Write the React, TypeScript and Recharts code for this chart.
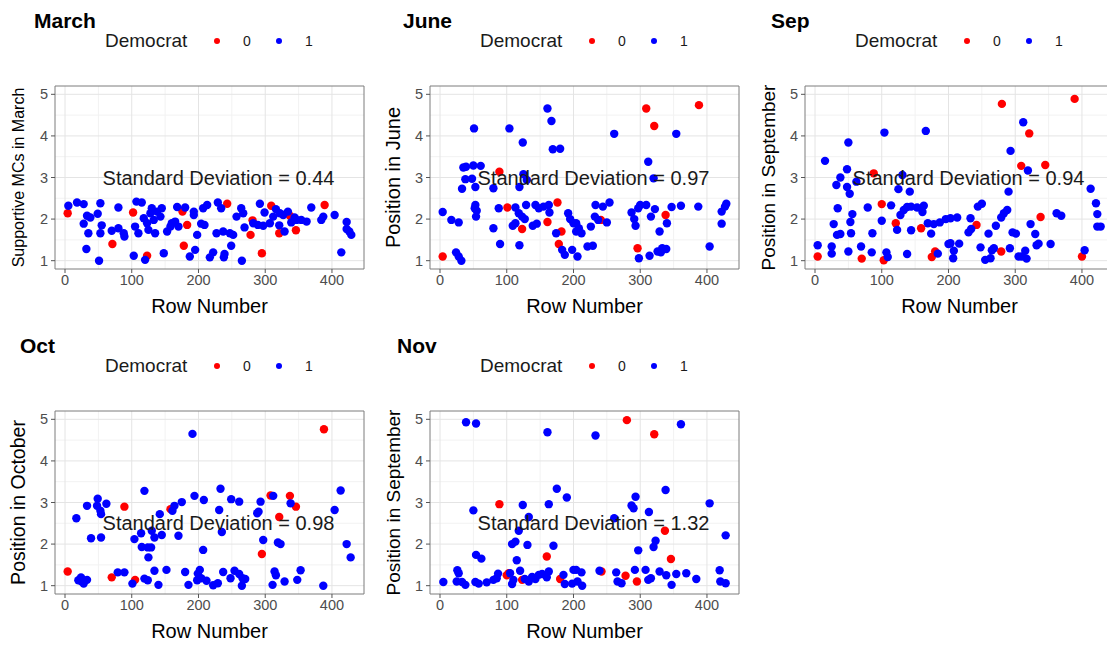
import React from "react";
import {
  ScatterChart,
  Scatter,
  XAxis,
  YAxis,
  CartesianGrid,
  ReferenceArea,
  ReferenceDot,
} from "recharts";

type Pt = [number, number];

// [row number, position], Democrat = 0 (red) / 1 (blue)
const marchDem0: Pt[] = [
  [4, 2.14], [71, 1.4], [102, 2.16], [123, 1.12], [176, 2.18], [178, 1.36], [183, 1.86], [243, 2.37],
  [281, 1.97], [278, 1.62], [309, 2.32], [321, 1.66], [337, 2.08], [346, 1.73], [389, 2.34], [295, 1.18],
];
const marchDem1: Pt[] = [
  [5, 2.32], [18, 2.4], [28, 2.36], [53, 2.38], [80, 2.28], [107, 2.42], [115, 2.4], [130, 2.26],
  [145, 2.26], [168, 2.29], [180, 2.28], [193, 2.18], [33, 2.08], [38, 2.04], [49, 2.13], [28, 1.89],
  [55, 1.85], [53, 1.66], [35, 1.66], [70, 1.72], [80, 1.78], [88, 1.66], [89, 1.58], [105, 1.82],
  [110, 1.66], [118, 2.02], [123, 1.9], [128, 2.14], [133, 1.98], [138, 2.18], [143, 2.06], [125, 1.74],
  [135, 1.66], [153, 1.7], [160, 1.9], [165, 1.94], [170, 1.82], [158, 1.82], [193, 2.1], [198, 1.62],
  [32, 1.28], [51, 1.0], [103, 1.12], [120, 1.02], [148, 1.18], [187, 1.1], [195, 1.26],
  [207, 2.26], [213, 2.34], [204, 1.89], [209, 1.86], [229, 2.4], [234, 2.26], [257, 2.06], [264, 2.26],
  [267, 2.14], [227, 1.66], [237, 1.7], [247, 1.66], [252, 1.62], [249, 1.36], [222, 1.2], [217, 1.08],
  [239, 1.16], [238, 1.08], [265, 1.0], [269, 1.8], [282, 1.9], [289, 1.86], [297, 1.84], [292, 2.37],
  [299, 2.16], [307, 1.9], [312, 2.06], [316, 2.24], [322, 2.14], [321, 1.85], [327, 2.1], [329, 1.7],
  [334, 2.18], [339, 1.92], [344, 2.04], [347, 1.98], [354, 1.98], [362, 1.94], [369, 2.28], [384, 1.98],
  [387, 2.06], [404, 2.1], [422, 1.93], [422, 1.76], [426, 1.7], [429, 1.62], [414, 1.2],
];

const juneDem0: Pt[] = [
  [4, 1.1], [89, 3.14], [101, 2.28], [123, 1.76], [161, 1.93], [176, 2.4], [182, 1.7], [178, 1.4],
  [309, 4.66], [321, 4.24], [388, 4.74], [241, 1.98], [296, 1.3], [338, 2.1],
];
const juneDem1: Pt[] = [
  [4, 2.17], [17, 1.98], [28, 1.92], [24, 1.2], [28, 1.1], [32, 1.0], [51, 4.18], [104, 4.18],
  [124, 3.84], [161, 4.66], [167, 4.36], [169, 3.68], [180, 3.69], [35, 3.24], [39, 3.26], [50, 3.29],
  [61, 3.28], [38, 2.96], [48, 2.97], [33, 2.73], [53, 2.77], [80, 2.74], [119, 2.77], [125, 3.08],
  [130, 2.94], [53, 2.34], [52, 2.26], [55, 2.2], [54, 2.06], [88, 2.26], [80, 1.78], [90, 1.4],
  [119, 1.37], [113, 2.28], [118, 2.14], [123, 2.06], [127, 2.0], [109, 1.84], [113, 1.9], [129, 2.34],
  [143, 2.34], [148, 2.26], [155, 2.3], [163, 2.34], [164, 2.16], [145, 1.89], [139, 1.84], [174, 1.66],
  [192, 2.14], [195, 2.0], [200, 1.9], [183, 1.26], [187, 1.14], [198, 1.26],
  [204, 1.9], [208, 1.78], [212, 1.66], [204, 1.7], [206, 1.1], [226, 1.82], [232, 2.06], [237, 1.98],
  [233, 2.34], [244, 2.3], [254, 2.4], [250, 1.92], [221, 1.34], [229, 1.36], [261, 4.05], [287, 2.16],
  [291, 2.0], [293, 1.84], [297, 2.26], [300, 2.34], [309, 2.34], [316, 2.06], [322, 2.24], [329, 1.7],
  [340, 1.9], [347, 2.29], [361, 2.32], [387, 2.3], [354, 4.05], [312, 3.38], [320, 2.98], [298, 1.06],
  [314, 1.12], [326, 1.22], [333, 1.3], [339, 1.28], [331, 1.2], [404, 1.34], [422, 2.18], [427, 2.3],
  [429, 2.37], [422, 1.89],
];

const sepDem0: Pt[] = [
  [4, 1.1], [70, 1.05], [103, 1.01], [88, 3.1], [100, 2.36], [121, 1.9], [159, 1.78], [180, 1.22],
  [175, 1.09], [280, 4.77], [389, 4.89], [321, 4.06], [309, 3.28], [345, 3.3], [242, 1.86], [279, 1.22],
  [338, 2.05], [400, 1.1],
];
const sepDem1: Pt[] = [
  [4, 1.37], [25, 1.34], [25, 1.17], [50, 1.22], [69, 1.34], [85, 1.2], [107, 1.2], [109, 1.09],
  [138, 1.16], [184, 1.17], [200, 1.4], [15, 3.4], [50, 3.84], [104, 4.08], [166, 4.12], [48, 3.2],
  [38, 3.0], [32, 2.82], [48, 2.77], [52, 2.61], [62, 2.9], [131, 3.06], [125, 2.72], [142, 2.66],
  [34, 2.26], [56, 2.12], [79, 2.28], [114, 2.33], [28, 1.88], [53, 1.93], [33, 1.62], [38, 1.64],
  [54, 1.66], [86, 1.66], [100, 1.96], [123, 1.74], [144, 1.73], [128, 2.1], [133, 2.22], [138, 2.29],
  [144, 2.3], [153, 2.28], [163, 2.32], [161, 2.17], [169, 1.9], [178, 1.88], [187, 1.92], [196, 2.0],
  [174, 1.65],
  [203, 2.02], [213, 2.04], [203, 1.42], [216, 1.41], [208, 1.24], [207, 1.06], [233, 2.02], [230, 1.68],
  [234, 1.76], [244, 2.3], [250, 2.37], [248, 1.32], [255, 1.02], [263, 1.06], [265, 1.25], [268, 1.3],
  [260, 1.65], [271, 1.84], [279, 2.04], [283, 2.14], [288, 2.22], [290, 2.66], [293, 3.64], [296, 1.68],
  [301, 1.65], [292, 1.3], [305, 1.1], [310, 1.1], [317, 1.05], [315, 1.24], [323, 1.88], [330, 1.64],
  [332, 1.37], [335, 1.41], [353, 1.4], [362, 2.14], [369, 2.08], [312, 4.33], [319, 3.17], [413, 2.73],
  [421, 2.38], [423, 2.12], [423, 1.82], [428, 1.82], [404, 1.25],
];

const octDem0: Pt[] = [
  [4, 1.34], [70, 1.2], [105, 1.14], [89, 2.9], [158, 2.84], [388, 4.76], [308, 3.17], [337, 3.16],
  [346, 2.9], [321, 2.65], [295, 1.76],
];
const octDem1: Pt[] = [
  [191, 4.65], [119, 3.28], [49, 3.09], [33, 2.92], [48, 2.92], [62, 2.97], [53, 2.8], [54, 2.72],
  [17, 2.62], [39, 2.14], [54, 2.16], [104, 2.12], [114, 2.26], [115, 1.93], [124, 1.92], [129, 1.92],
  [125, 1.68], [130, 2.32], [134, 2.16], [145, 2.22], [142, 2.72], [161, 2.8], [164, 2.92], [175, 3.01],
  [170, 2.2], [194, 3.16], [20, 1.13], [24, 1.2], [28, 1.05], [33, 1.14], [25, 1.1], [79, 1.32],
  [89, 1.32], [101, 1.05], [119, 1.17], [124, 1.13], [134, 1.36], [140, 1.02], [152, 1.38], [180, 1.33],
  [185, 1.02], [199, 1.29], [198, 1.13],
  [208, 3.06], [233, 3.33], [249, 3.08], [261, 3.02], [231, 2.82], [293, 3.02], [288, 2.74], [290, 2.78],
  [312, 3.16], [338, 2.98], [404, 2.82], [413, 3.29], [235, 2.29], [207, 1.86], [297, 2.1], [319, 2.04],
  [323, 2.0], [422, 2.0], [428, 1.68], [202, 1.38], [204, 1.18], [212, 1.12], [222, 1.01], [229, 1.06],
  [237, 1.33], [248, 1.18], [254, 1.36], [261, 1.28], [266, 1.18], [270, 1.16], [265, 1.0], [311, 1.02],
  [314, 1.34], [316, 1.25], [329, 1.1], [348, 1.14], [353, 1.37], [387, 1.0],
];

const novDem0: Pt[] = [
  [89, 2.96], [103, 1.3], [100, 1.25], [123, 1.14], [160, 1.7], [180, 1.16], [280, 4.98], [321, 4.64],
  [337, 2.32], [346, 1.64], [242, 1.34], [278, 1.24], [295, 1.1],
];
const novDem1: Pt[] = [
  [39, 4.93], [54, 4.9], [161, 4.69], [50, 2.81], [124, 2.94], [133, 2.65], [163, 2.96], [175, 3.33],
  [190, 3.12], [118, 2.32], [108, 2.0], [113, 2.06], [131, 1.98], [170, 1.96], [54, 1.74], [62, 1.65],
  [115, 1.61], [5, 1.09], [26, 1.37], [28, 1.3], [25, 1.1], [33, 1.09], [38, 1.02], [53, 1.09],
  [58, 1.05], [70, 1.08], [80, 1.14], [85, 1.18], [87, 1.29], [105, 1.3], [108, 1.04], [110, 1.14],
  [120, 1.36], [127, 1.16], [133, 1.1], [138, 1.21], [143, 1.16], [148, 1.26], [153, 1.28], [160, 1.2],
  [163, 1.34], [185, 1.26], [187, 1.04], [198, 1.05], [200, 1.38],
  [233, 4.61], [361, 4.88], [293, 3.14], [287, 2.93], [290, 2.86], [338, 3.3], [313, 2.77], [261, 2.62],
  [404, 2.98], [428, 2.21], [323, 2.08], [320, 1.93], [297, 1.85], [204, 1.38], [212, 1.32], [206, 1.1],
  [213, 1.0], [239, 1.36], [264, 1.32], [266, 1.1], [272, 1.06], [292, 1.38], [308, 1.38], [312, 1.14],
  [316, 1.18], [329, 1.34], [339, 1.25], [347, 1.02], [354, 1.28], [369, 1.3], [384, 1.16], [419, 1.37],
  [420, 1.1], [428, 1.06],
];

const xTicks = [0, 100, 200, 300, 400];
const xMinor = [50, 150, 250, 350];
const yTicks = [1, 2, 3, 4, 5];
const yMinor = [1.5, 2.5, 3.5, 4.5];
const xDomain: [number, number] = [-15, 448];
const yDomain: [number, number] = [0.8, 5.2];
const legendLabels = ["0", "1"];

const FONT = '"Liberation Sans", Arial, Helvetica, sans-serif';
const RED = "#FF0000";
const BLUE = "#0000FF";
const TICK = "#4D4D4D";

const toXY = (pts: Pt[]) => pts.map(([x, y]) => ({ x, y }));

const dot = (color: string) => (p: any) =>
  <circle cx={p.cx} cy={p.cy} r={4.2} fill={color} />;

const yTitle = (text: string, size: number) => () => (
  <text
    x={18}
    y={101.5}
    transform="rotate(-90 18 101.5)"
    textAnchor="middle"
    dominantBaseline="central"
    fontSize={size}
    fill="#000"
    fontFamily={FONT}
  >
    {text}
  </text>
);

const panels = [
  { title: "March", titleX: 34, col: 0, row: 0, yLabel: "Supportive MCs in March", ySize: 16, sd: "0.44", sdY: 3, dem0: marchDem0, dem1: marchDem1 },
  { title: "June", titleX: 403, col: 1, row: 0, yLabel: "Position in June", ySize: 20, sd: "0.97", sdY: 3, dem0: juneDem0, dem1: juneDem1 },
  { title: "Sep", titleX: 771, col: 2, row: 0, yLabel: "Position in September", ySize: 19, sd: "0.94", sdY: 3, dem0: sepDem0, dem1: sepDem1 },
  { title: "Oct", titleX: 20, col: 0, row: 1, yLabel: "Position in October", ySize: 19.5, sd: "0.98", sdY: 2.5, dem0: octDem0, dem1: octDem1 },
  { title: "Nov", titleX: 397, col: 1, row: 1, yLabel: "Position in September", ySize: 19, sd: "1.32", sdY: 2.5, dem0: novDem0, dem1: novDem1 },
];

function Panel(p: (typeof panels)[number]) {
  const left = p.col * 375;
  const top = p.row * 325;
  return (
    <>
      <div
        style={{
          position: "absolute",
          left: p.titleX,
          top: top + 10,
          fontSize: 21,
          fontWeight: 700,
          lineHeight: 1,
          whiteSpace: "nowrap",
        }}
      >
        {p.title}
      </div>
      <div style={{ position: "absolute", left: left + 105, top: top + 31, fontSize: 19, lineHeight: 1, color: "#1a1a1a" }}>
        Democrat
      </div>
      {legendLabels.map((lab, i) => (
        <React.Fragment key={lab}>
          <div
            style={{
              position: "absolute",
              left: left + 217 + i * 62 - 3,
              top: top + 41 - 3,
              width: 6,
              height: 6,
              borderRadius: 3,
              background: i === 0 ? RED : BLUE,
            }}
          />
          <div
            style={{
              position: "absolute",
              left: left + 248 + i * 62 - 5,
              top: top + 34,
              fontSize: 14,
              lineHeight: 1,
              color: "#1a1a1a",
            }}
          >
            {lab}
          </div>
        </React.Fragment>
      ))}
      <div style={{ position: "absolute", left, top: top + 76 }}>
        <ScatterChart
          width={369}
          height={241}
          margin={{ top: 10, right: 5, bottom: 0, left: 0 }}
          style={{ fontFamily: FONT }}
        >
          <CartesianGrid verticalValues={xMinor} horizontalValues={yMinor} stroke="#f2f2f2" />
          <CartesianGrid verticalValues={xTicks} horizontalValues={yTicks} stroke="#e4e4e4" />
          <XAxis
            type="number"
            dataKey="x"
            domain={xDomain}
            ticks={xTicks}
            interval={0}
            allowDataOverflow
            axisLine={false}
            tickLine={{ stroke: "#555" }}
            tickSize={4}
            tickMargin={2}
            height={48}
            tick={{ fill: TICK, fontSize: 14.5 }}
            label={{ value: "Row Number", position: "insideBottom", offset: 4, fill: "#000", fontSize: 20 }}
          />
          <YAxis
            type="number"
            dataKey="y"
            domain={yDomain}
            ticks={yTicks}
            interval={0}
            allowDataOverflow
            width={55}
            axisLine={false}
            tickLine={{ stroke: "#555" }}
            tickSize={4}
            tickMargin={3}
            tick={{ fill: TICK, fontSize: 14.5 }}
            label={yTitle(p.yLabel, p.ySize)}
          />
          <Scatter data={toXY(p.dem0)} fill={RED} shape={dot(RED)} isAnimationActive={false} />
          <Scatter data={toXY(p.dem1)} fill={BLUE} shape={dot(BLUE)} isAnimationActive={false} />
          <ReferenceArea
            x1={xDomain[0]}
            x2={xDomain[1]}
            y1={yDomain[0]}
            y2={yDomain[1]}
            fill="none"
            fillOpacity={0}
            stroke="#7d7d7d"
            strokeWidth={1}
            ifOverflow="visible"
          />
          <ReferenceDot
            x={230}
            y={p.sdY}
            r={0}
            fill="none"
            stroke="none"
            label={{
              value: `Standard Deviation = ${p.sd}`,
              position: "center",
              fontSize: 20,
              fill: "#1a1a1a",
            }}
          />
        </ScatterChart>
      </div>
    </>
  );
}

export default function App() {
  return (
    <div
      style={{
        position: "absolute",
        left: 0,
        top: 0,
        width: 1107,
        height: 645,
        overflow: "hidden",
        background: "#fff",
        fontFamily: FONT,
        color: "#000",
      }}
    >
      {panels.map((p) => (
        <Panel key={p.title} {...p} />
      ))}
    </div>
  );
}
